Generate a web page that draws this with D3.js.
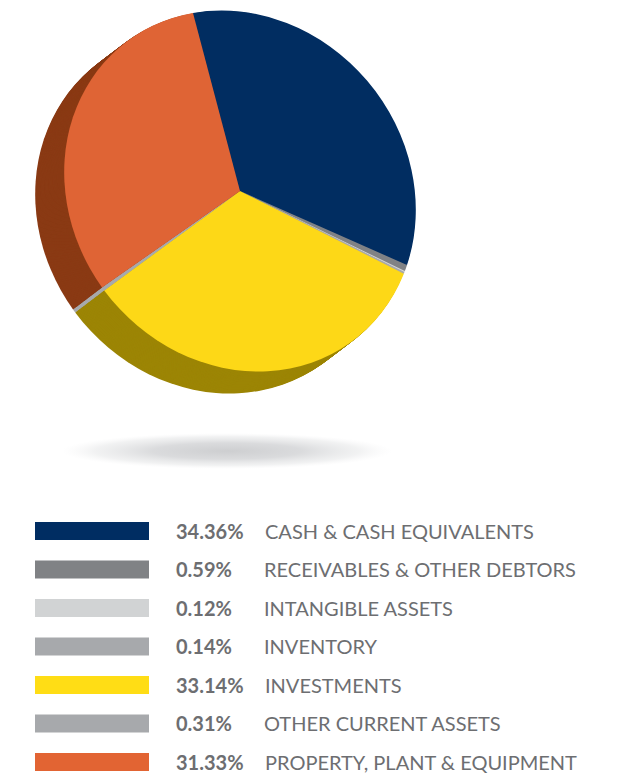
<!DOCTYPE html>
<html><head><meta charset="utf-8">
<script src="https://cdn.jsdelivr.net/npm/d3@7"></script>
<style>html,body{margin:0;padding:0;background:#fff}svg{display:block}</style></head>
<body><script>
const categories = ["CASH & CASH EQUIVALENTS","RECEIVABLES & OTHER DEBTORS","INTANGIBLE ASSETS","INVENTORY","INVESTMENTS","OTHER CURRENT ASSETS","PROPERTY, PLANT & EQUIPMENT"];
const values = [34.36,0.59,0.12,0.14,33.14,0.31,31.33];
const valueLabels = ["34.36%","0.59%","0.12%","0.14%","33.14%","0.31%","31.33%"];
const topColors = ["#012d61","#808285","#d1d3d4","#a7a9ac","#fdd817","#a7a9ac","#df6435"];
const sideColors = ["#012d61","#808285","#a7a9ac","#a7a9ac","#9c8505","#a7a9ac","#8a3a14"];
const legendColors = ["#002d62","#808285","#d1d3d4","#a7a9ac","#ffdd15","#a7a9ac","#e26433"];

const W = 627, H = 773, R = 100;
const svg = d3.select("body").append("svg").attr("width",W).attr("height",H);
const defs = svg.append("defs");
const grad = defs.append("radialGradient").attr("id","shadow");
[[0,"#cdced0",1],[0.45,"#d6d7d9",0.9],[0.8,"#e6e7e8",0.55],[1,"#f2f2f3",0]].forEach(s=>
  grad.append("stop").attr("offset",s[0]).attr("stop-color",s[1]).attr("stop-opacity",s[2]));

svg.append("ellipse").attr("cx",227).attr("cy",451).attr("rx",165).attr("ry",18).attr("fill","url(#shadow)");

const pie = d3.pie().sort(null).value(d=>d)
  .startAngle(-15*Math.PI/180).endAngle(345*Math.PI/180);
const arcs = pie(values);
const arc = d3.arc().innerRadius(0).outerRadius(R);
const tilt = `matrix(${175.8/R},${17.3/R},${1.56/R},${179.65/R},`;
const depthX = -29, depthY = 22, layers = 36;

d3.range(layers,0,-1).forEach(i=>{
  const t = i/layers;
  svg.append("g").attr("transform",`${tilt}${240+depthX*t},${191+depthY*t})`)
    .selectAll("path").data(arcs).join("path")
    .attr("d",arc).attr("fill",(d,k)=>sideColors[k]);
});
svg.append("g").attr("transform",`${tilt}240,191)`)
  .selectAll("path").data(arcs).join("path")
  .attr("d",arc).attr("fill",(d,k)=>topColors[k]);

const y = d3.scalePoint().domain(categories).range([531,762]);
const legend = svg.append("g").selectAll("g").data(categories).join("g")
  .attr("transform",d=>`translate(0,${y(d)})`);
legend.append("rect").attr("x",35).attr("y",-9).attr("width",114).attr("height",18)
  .attr("fill",(d,i)=>legendColors[i]);
legend.append("text").attr("x",176).attr("y",7.5).text((d,i)=>valueLabels[i])
  .attr("font-family","Lato").attr("font-weight",700).attr("font-size",20).attr("fill","#6d6e71");
legend.append("text").attr("x",(d,i)=>valueLabels[i].length>5?265:264).attr("y",7.5).text(d=>d)
  .attr("font-family","Lato").attr("font-size",20).attr("fill","#6d6e71");
</script></body></html>
